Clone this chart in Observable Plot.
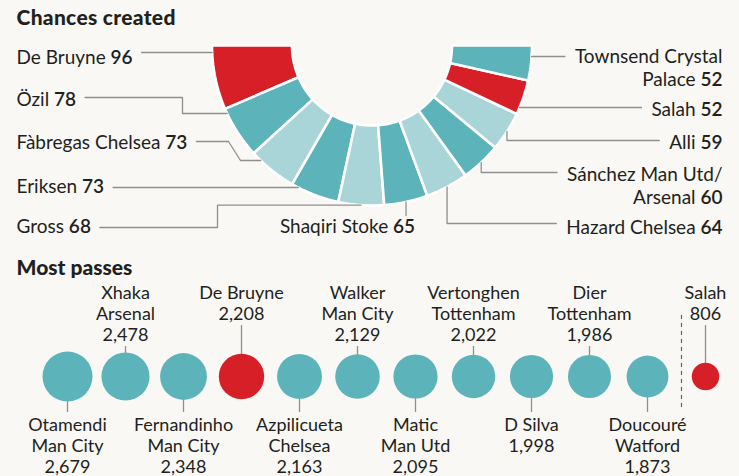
<!DOCTYPE html>
<html><head><meta charset="utf-8">
<script src="https://cdn.jsdelivr.net/npm/d3@7"></script>
<script src="https://cdn.jsdelivr.net/npm/@observablehq/plot@0.6"></script>
<style>
html,body{margin:0;padding:0;background:#f9f8f4;}
#chart{width:739px;height:476px;overflow:hidden;background:#f9f8f4;}
#chart svg{display:block;}
</style></head><body><div id="chart"></div>
<script>
// ---------- Data: Chances created ----------
const chanceNames  = ["De Bruyne","Özil","Fàbregas","Eriksen","Gross","Shaqiri","Hazard","Sánchez","Alli","Salah","Townsend"];
const chanceLabels = ["De Bruyne 96","Özil 78","Fàbregas Chelsea 73","Eriksen 73","Gross 68","Shaqiri Stoke 65","Hazard Chelsea 64","Sánchez Man Utd/\nArsenal 60","Alli 59","Salah 52","Townsend Crystal\nPalace 52"];
const chanceValues = [96,78,73,73,68,65,64,60,59,52,52];
const chanceShade  = ["red","teal","light","teal","light","teal","light","teal","light","red","teal"];

// ---------- Data: Most passes ----------
const passNames  = ["Otamendi","Xhaka","Fernandinho","De Bruyne","Azpilicueta","Walker","Matic","Vertonghen","D Silva","Dier","Doucouré","Salah"];
const passTeams  = ["Man City","Arsenal","Man City","","Chelsea","Man City","Man Utd","Tottenham","","Tottenham","Watford",""];
const passValues = [2679,2478,2348,2208,2163,2129,2095,2022,1998,1986,1873,806];
const passHighlight = [false,false,false,true,false,false,false,false,false,false,false,true];

// ---------- Styles / layout ----------
const ink = "#231f20";
const leaderColor = "#8f8f8f";
const palette = {red:"#d71f27", teal:"#5cb4ba", light:"#a9d5d9"};
const FONT = "Lato";
const FS = 19, FS2 = 18;
const NUMW = 600;
const TOP_H = 255, BOT_H = 221, W = 739;
const cx = 371.5, cy = 45, rOuter = 160, rInner = 80;

// label layout for chances (positions are layout, not data)
const chanceLayout = [
  {x:16,  y:63,  anchor:"start",  side:"left",  lineY:52,  route:"h"},
  {x:16,  y:105, anchor:"start",  side:"left",  lineY:97,  route:"elbow", e1:182, e2:182, ay:113},
  {x:16,  y:148, anchor:"start",  side:"left",  lineY:141, route:"elbow", e1:228, e2:240, ay:160},
  {x:16,  y:192, anchor:"start",  side:"left",  lineY:187, route:"h"},
  {x:16,  y:232, anchor:"start",  side:"left",  lineY:227, route:"elbow", e1:217, e2:217, ay:null},
  {x:347, y:232, anchor:"middle", side:"mid",   lineY:215, route:"v", noH:true},
  {x:722, y:233, anchor:"end",    side:"right", lineY:223, route:"v"},
  {x:722, y:203, anchor:"end",    side:"right", lineY:172, route:"v"},
  {x:722, y:148, anchor:"end",    side:"right", lineY:140, route:"v"},
  {x:722, y:115, anchor:"end",    side:"right", lineY:107, route:"h"},
  {x:722, y:85,  anchor:"end",    side:"right", lineY:56,  route:"h"}
];

// text measurement
const ctx = document.createElement("canvas").getContext("2d");
function measure(s, weight = "normal", size = FS) { ctx.font = `${weight} ${size}px ${FONT}`; return ctx.measureText(s).width; }
function lineWidth(line) {
  const m = line.match(/^(.*\s)(\d+)$/);
  return m ? measure(m[1]) + measure(m[2], NUMW) : measure(line);
}

// ---------- Build donut geometry from values ----------
const total = d3.sum(chanceValues);
const ang = f => Math.PI * (1 - f);
const pt = (f, r) => [cx + r * Math.cos(ang(f)), cy + r * Math.sin(ang(f))];
let cum = 0;
const segs = chanceValues.map((v, i) => { const a0 = cum / total; cum += v; return {i, a0, a1: cum / total}; });
const segPoints = [];
segs.forEach(s => {
  const N = 40, poly = [];
  for (let k = 0; k <= N; k++) poly.push(pt(s.a0 + (s.a1 - s.a0) * k / N, rOuter));
  for (let k = N; k >= 0; k--) poly.push(pt(s.a0 + (s.a1 - s.a0) * k / N, rInner));
  poly.push(poly[0]);
  poly.forEach(([x, y]) => segPoints.push({i: s.i, x, y, fill: palette[chanceShade[s.i]]}));
});

// leader lines
const arcX = (y, side) => cx + (side === "left" ? -1 : 1) * Math.sqrt(rOuter * rOuter - (y - cy) ** 2);
const leaderPoints = [];
chanceLayout.forEach((L, i) => {
  const lines = chanceLabels[i].split("\n");
  const w0 = lineWidth(lines[0]);
  const xs = L.side === "left" ? L.x + w0 + 9 : L.x - w0 - 10;
  const s = segs[i];
  const mid = pt((s.a0 + s.a1) / 2, rOuter);
  let pts;
  if (L.route === "h") pts = [[xs, L.lineY], [arcX(L.lineY, L.side), L.lineY]];
  else if (L.route === "elbow") {
    const a = L.ay != null ? [arcX(L.ay, L.side), L.ay] : mid;
    pts = [[xs, L.lineY], [L.e1, L.lineY], [L.e2, a[1]], a];
  } else {
    pts = [mid, [mid[0], L.lineY]];
    if (!L.noH) pts.push([xs, L.lineY]);
  }
  pts.forEach(([x, y]) => leaderPoints.push({i, x, y}));
});

const labelData = chanceLayout.map((L, i) => ({...L, text: chanceLabels[i]}));

const topPlot = Plot.plot({
  width: W, height: TOP_H, margin: 0,
  x: {domain: [0, W], range: [0, W], axis: null},
  y: {domain: [0, TOP_H], range: [0, TOP_H], axis: null},
  color: {type: "identity"},
  style: {background: "transparent", fontFamily: FONT, color: ink, overflow: "visible"},
  marks: [
    Plot.line(segPoints, {x: "x", y: "y", z: "i", fill: "fill", stroke: "#ffffff", strokeWidth: 2.6, curve: "linear", strokeLinejoin: "miter"}),
    Plot.line(leaderPoints, {x: "x", y: "y", z: "i", stroke: leaderColor, strokeWidth: 1.3, curve: "linear"}),
    ...["start", "middle", "end"].map(a =>
      Plot.text(labelData.filter(d => d.anchor === a), {x: "x", y: "y", text: "text", textAnchor: a, lineAnchor: "bottom", lineHeight: 23 / FS, fontSize: FS, fill: ink})),
    Plot.text(["Chances created"], {frameAnchor: "top-left", dx: 16, dy: 24, textAnchor: "start", lineAnchor: "bottom", fontSize: 21, fontWeight: 900, fill: ink})
  ]
});

// bold the numbers in the chance labels; widen the section title a little
d3.select(topPlot).selectAll("text").each(function() {
  if (this.textContent === "Chances created") { this.setAttribute("letter-spacing", "0.3"); return; }
  const tspans = this.querySelectorAll("tspan");
  const target = tspans.length ? tspans[tspans.length - 1] : this;
  const m = target.textContent.match(/^(.*\s)(\d+)$/);
  if (!m) return;
  target.textContent = m[1];
  const b = document.createElementNS("http://www.w3.org/2000/svg", "tspan");
  b.setAttribute("font-weight", NUMW);
  b.textContent = m[2];
  target.appendChild(b);
});

// ---------- Passes ----------
const fmt = d3.format(",");
const pcy = 121, topBase = 43, botBase = 175, step = 21;
const passData = passNames.map((n, i) => {
  const lines = [n]; if (passTeams[i]) lines.push(passTeams[i]); lines.push(fmt(passValues[i]));
  const top = i % 2 === 1;
  const nl = lines.length;
  return {
    name: n, value: passValues[i], hi: passHighlight[i], top,
    text: lines.join("\n"),
    ty: (top ? topBase : botBase) + (nl - 1) * step,
    ly1: top ? topBase + (nl - 1) * step + 6 : pcy,
    ly2: top ? pcy : botBase - 18
  };
});

const botPlot = Plot.plot({
  width: W, height: BOT_H, margin: 0,
  x: {type: "point", domain: passNames, range: [65, 706], padding: 0, axis: null},
  y: {domain: [0, BOT_H], range: [0, BOT_H], axis: null},
  r: {type: "sqrt", domain: [0, 2679], range: [0, 25]},
  color: {type: "identity"},
  style: {background: "transparent", fontFamily: FONT, color: ink, overflow: "visible"},
  marks: [
    Plot.text(["Most passes"], {frameAnchor: "top-left", dx: 16, dy: 19, textAnchor: "start", lineAnchor: "bottom", fontSize: 21, fontWeight: 900, fill: ink}),
    Plot.ruleX(["Salah"], {x: d => d, dx: -24, y1: 60, y2: 154, stroke: "#666", strokeWidth: 1.2, strokeDasharray: "4,4"}),
    Plot.ruleX(passData, {x: "name", y1: "ly1", y2: "ly2", stroke: leaderColor, strokeWidth: 1.3}),
    Plot.dot(passData, {x: "name", y: () => pcy, r: "value", fill: d => d.hi ? palette.red : palette.teal, stroke: "none"}),
    Plot.text(passData, {x: "name", y: "ty", text: "text", lineAnchor: "bottom", lineHeight: step / FS2, fontSize: FS2, fill: ink})
  ]
});

const root = document.getElementById("chart");
root.appendChild(topPlot);
root.appendChild(botPlot);
</script>
</body></html>
